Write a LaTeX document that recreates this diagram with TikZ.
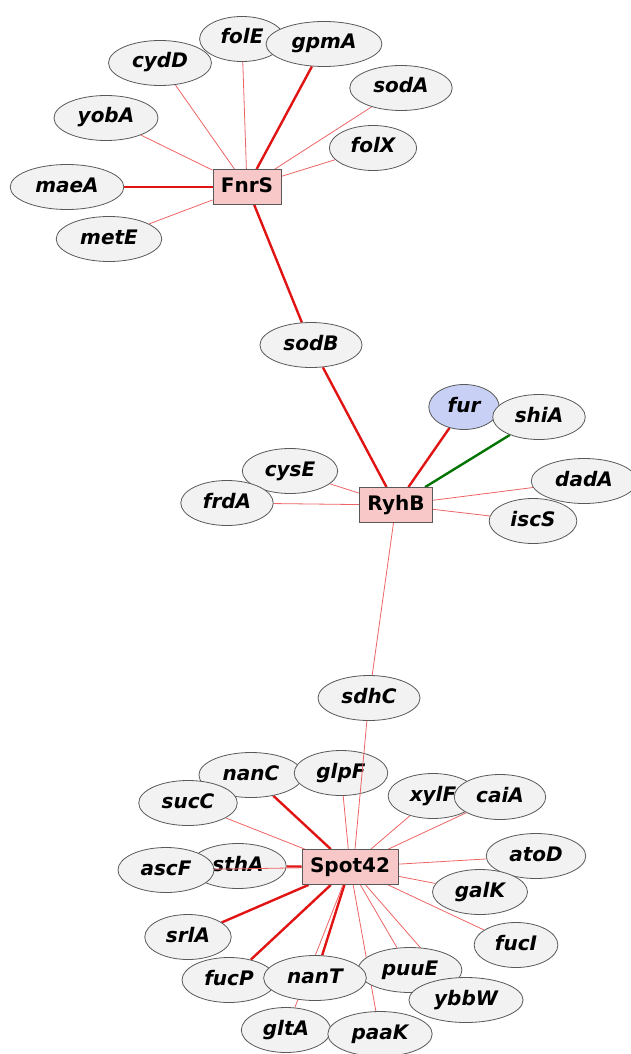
\documentclass[tikz,border=0pt]{standalone}
\usepackage{fontspec}
\setmainfont{DejaVu Sans}
\usetikzlibrary{shapes.geometric,backgrounds}
\definecolor{genefill}{RGB}{242,242,242}
\definecolor{hubfill}{RGB}{248,200,200}
\definecolor{furfill}{RGB}{200,208,245}
\definecolor{lnkred}{RGB}{238,100,100}
\definecolor{strongred}{RGB}{225,20,20}
\tikzset{
  gene/.style={ellipse, draw=gray!70!black, line width=0.8pt, fill=genefill, minimum height=45pt, inner xsep=8.5pt, inner ysep=2pt,
    text height=14pt, text depth=4pt, font=\fontsize{20}{24}\selectfont\bfseries\itshape},
  tf/.style={gene, fill=furfill},
  hub/.style={rectangle, draw=gray!70!black, line width=0.8pt, fill=hubfill, minimum height=35pt, inner xsep=8pt,
    text height=14pt, text depth=4pt, font=\fontsize{20}{24}\selectfont\bfseries},
  lnk/.style={draw=lnkred, line width=0.8pt},
  strong/.style={draw=strongred, line width=2.4pt},
  act/.style={draw=green!45!black, line width=2.4pt}
}

\begin{document}
\begin{tikzpicture}[x=1pt,y=-1pt]
\useasboundingbox (0,0) rectangle (630,1054);
% FnrS
\node[hub] (fnrs) at (247,187) {FnrS};
\node[gene] (cydD) at (160,63) {cydD};
\node[gene] (folE) at (242,39) {folE};
\node[gene] (gpmA) at (324,44) {gpmA};
\node[gene] (sodA) at (401,88) {sodA};
\node[gene] (yobA) at (106,118) {yobA};
\node[gene] (folX) at (373,148) {folX};
\node[gene] (maeA) at (67,187) {maeA};
\node[gene] (metE) at (109,239) {metE};
\node[gene] (sodB) at (311,345) {sodB};
% RyhB
\node[hub] (ryhb) at (396,505) {RyhB};
\node[tf] (fur) at (464,407) {fur};
\node[gene] (shiA) at (539,417) {shiA};
\node[gene] (cysE) at (290,471) {cysE};
\node[gene] (frdA) at (227,503) {frdA};
\node[gene] (dadA) at (584,481) {dadA};
\node[gene] (iscS) at (533,521) {iscS};
\node[gene] (sdhC) at (369,698) {sdhC};
% Spot42
\node[hub] (spot) at (350,867) {Spot42};
\node[gene] (nanC) at (251,775) {nanC};
\node[gene] (sucC) at (188,803) {sucC};
\node[gene] (glpF) at (341,773) {glpF};
\node[gene] (xylF) at (433,796) {xylF};
\node[gene] (caiA) at (500,797) {caiA};
\node[gene] (atoD) at (536,856) {atoD};
\node[gene] (sthA) at (238,866) {sthA};
\node[gene] (ascF) at (166,870) {ascF};
\node[gene] (galK) at (480,892) {galK};
\node[gene] (srlA) at (188,937) {srlA};
\node[gene] (fucI) at (516,945) {fucI};
\node[gene] (fucP) at (229,980) {fucP};
\node[gene] (puuE) at (410,970) {puuE};
\node[gene] (nanT) at (315,978) {nanT};
\node[gene] (ybbW) at (466,1000) {ybbW};
\node[gene] (gltA) at (286,1030) {gltA};
\node[gene] (paaK) at (380,1034) {paaK};

\begin{scope}[on background layer]
\draw[lnk] (fnrs) -- (cydD); \draw[lnk] (fnrs) -- (folE);
\draw[strong] (fnrs) -- (gpmA); \draw[lnk] (fnrs) -- (sodA);
\draw[lnk] (fnrs) -- (yobA); \draw[lnk] (fnrs) -- (folX);
\draw[strong] (fnrs) -- (maeA); \draw[lnk] (fnrs) -- (metE);
\draw[strong] (fnrs) -- (sodB);
\draw[strong] (ryhb) -- (sodB); \draw[strong] (ryhb) -- (fur);
\draw[act] (ryhb) -- (shiA);
\draw[lnk] (ryhb) -- (cysE); \draw[lnk] (ryhb) -- (frdA);
\draw[lnk] (ryhb) -- (dadA); \draw[lnk] (ryhb) -- (iscS);
\draw[lnk] (ryhb) -- (sdhC);
\draw[strong] (spot) -- (nanC); \draw[lnk] (spot) -- (sucC);
\draw[lnk] (spot) -- (glpF); \draw[lnk] (spot) -- (xylF);
\draw[lnk] (spot) -- (caiA); \draw[lnk] (spot) -- (atoD);
\draw[strong] (spot) -- (sthA); \draw[lnk] (spot) -- (galK);
\draw[strong] (spot) -- (srlA); \draw[lnk] (spot) -- (fucI);
\draw[strong] (spot) -- (fucP); \draw[strong] (spot) -- (nanT);
\draw[lnk] (spot) -- (puuE); \draw[lnk] (spot) -- (ybbW);
\draw[lnk] (spot) -- (gltA); \draw[lnk] (spot) -- (paaK);
\end{scope}
% these two run over the nodes they cross
\draw[lnk] ([xshift=5pt]spot.north) -- (sdhC);
\draw[lnk] (spot) -- (ascF);
\end{tikzpicture}
\end{document}
